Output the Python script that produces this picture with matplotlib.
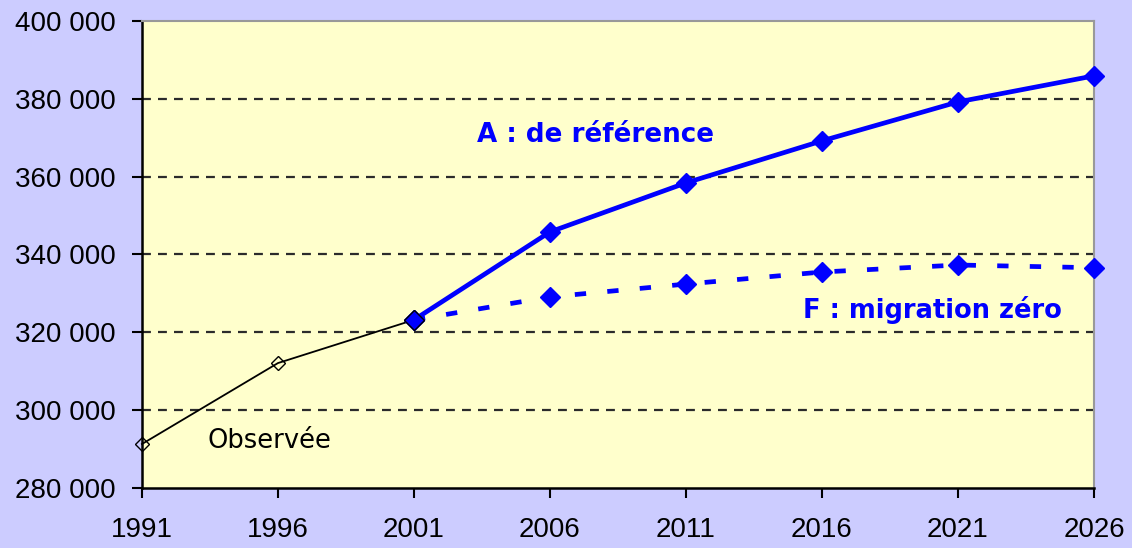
import matplotlib

matplotlib.use("Agg")
import matplotlib.pyplot as plt
from matplotlib.ticker import FuncFormatter

plt.rcParams["font.family"] = ["Liberation Sans", "DejaVu Sans"]

# Population totals
years_obs = [1991, 1996, 2001]
pop_obs = [291300, 312100, 323200]

years_proj = [2001, 2006, 2011, 2016, 2021, 2026]
pop_a = [323200, 345800, 358400, 369200, 379200, 385900]
pop_f = [323200, 329100, 332400, 335500, 337300, 336600]

x_ticks = [1991, 1996, 2001, 2006, 2011, 2016, 2021, 2026]
y_ticks = [280000, 300000, 320000, 340000, 360000, 380000, 400000]

BLUE = "#0000FF"
BG = "#CCCCFF"
PLOT_BG = "#FFFFCC"

fig = plt.figure(figsize=(11.32, 5.48), dpi=100, facecolor=BG)
ax = fig.add_axes([0.1254, 0.1095, 0.8410, 0.8522], facecolor=PLOT_BG)

for y in y_ticks[1:-1]:
    ax.axhline(y, color="#2b2b2b", lw=1.6, ls=(0, (4.0, 3.2)), zorder=1)

ax.plot(years_obs, pop_obs, color="black", lw=1.3, marker="D", ms=7,
        mfc="none", mec="black", mew=1.0, zorder=3, clip_on=False)
ax.plot(years_proj, pop_f, color=BLUE, lw=3.4, ls=(0, (2.4, 4.5)), marker="D",
        ms=10.5, mfc=BLUE, mec=BLUE, zorder=4, clip_on=False)
ax.plot(years_proj, pop_a, color=BLUE, lw=3.4, marker="D", ms=10.5,
        mfc=BLUE, mec=BLUE, zorder=5, clip_on=False)
ax.plot(years_proj[:1], pop_a[:1], ls="none", marker="D", ms=10.5,
        mfc=BLUE, mec="black", mew=1.0, zorder=6)

label_font = ["DejaVu Sans"]
ax.text(2003.3, 370700, "A : de référence", color=BLUE, fontsize=18.8,
        fontweight="bold", family=label_font, va="center", ha="left")
ax.text(2015.3, 325800, "F : migration zéro", color=BLUE, fontsize=18.5,
        fontweight="bold", family=label_font, va="center", ha="left")
ax.text(1993.4, 292100, "Observée", color="black", fontsize=18.5,
        family=label_font, va="center", ha="left")

ax.set_xlim(1991, 2026)
ax.set_ylim(280000, 400000)
ax.set_xticks(x_ticks)
ax.set_yticks(y_ticks)
ax.yaxis.set_major_formatter(
    FuncFormatter(lambda v, _: f"{int(v):,}".replace(",", " ")))
ax.tick_params(axis="both", direction="out", length=7, width=1.5,
               labelsize=20, colors="black")
ax.tick_params(axis="x", pad=14)
ax.tick_params(axis="y", pad=12)

for side in ("left", "bottom"):
    ax.spines[side].set_color("black")
    ax.spines[side].set_linewidth(1.8)
for side in ("top", "right"):
    ax.spines[side].set_color("#999999")
    ax.spines[side].set_linewidth(1.5)

fig.savefig("out.png", dpi=100, facecolor=BG)
